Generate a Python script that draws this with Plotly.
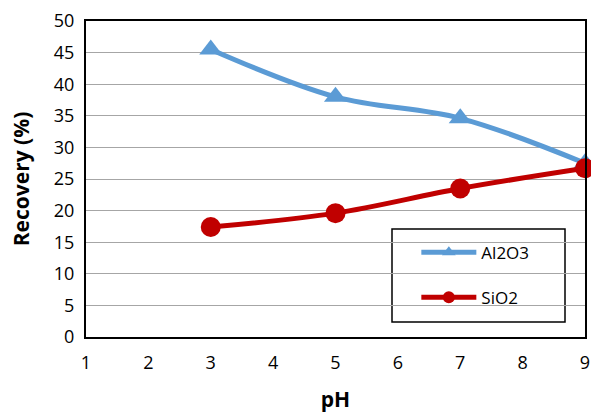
import plotly.graph_objects as go

ph = [3, 5, 7, 9]
al2o3 = [45.5, 38.0, 34.6, 27.5]
sio2 = [17.4, 19.6, 23.5, 26.7]

FONT = "Open Sans"
W, H = 591, 413
L, T = 86, 21
PW, PH = 499, 316

fig = go.Figure()
fig.add_trace(go.Scatter(
    x=ph, y=al2o3, name="Al2O3", mode="lines+markers",
    line=dict(color="#5B9BD5", width=5, shape="spline", smoothing=1),
    marker=dict(symbol="triangle-up", size=20, color="#5B9BD5"),
    legendgroup="a", cliponaxis=False,
))
fig.add_trace(go.Scatter(
    x=ph, y=sio2, name="SiO2", mode="lines+markers",
    line=dict(color="#C00000", width=5, shape="spline", smoothing=1),
    marker=dict(symbol="circle", size=20, color="#C00000"),
    legendgroup="b", cliponaxis=False,
))

fig.update_layout(
    width=W, height=H,
    margin=dict(l=L, r=W - L - PW, t=T, b=H - T - PH),
    paper_bgcolor="white", plot_bgcolor="white",
    font=dict(family=FONT, size=18, color="black"),
    showlegend=True,
    legend=dict(
        x=0.662, y=0.324, xanchor="left", yanchor="top",
        bgcolor="rgba(0,0,0,0)", borderwidth=0,
        tracegroupgap=20, font=dict(size=17), itemsizing="constant",
        itemwidth=55,
    ),
    xaxis=dict(
        range=[1, 9], dtick=1, tick0=1, showgrid=False, automargin=False,
        showline=True, linecolor="black", linewidth=2, mirror=True,
        ticks="outside", ticklen=8, tickcolor="rgba(0,0,0,0)", zeroline=False,
        title=dict(text="<b>pH</b>", font=dict(size=21), standoff=21),
    ),
    yaxis=dict(
        range=[0, 50], dtick=5, showgrid=True, gridcolor="#A6A6A6", gridwidth=1,
        automargin=False,
        showline=True, linecolor="black", linewidth=2, mirror=True,
        ticks="outside", ticklen=6, tickcolor="rgba(0,0,0,0)", zeroline=False,
        title=dict(text="<b>Recovery (%)</b>", font=dict(size=21), standoff=18),
    ),
    shapes=[dict(
        type="rect", xref="paper", yref="paper",
        x0=(392 - L) / PW, x1=(565 - L) / PW,
        y0=(T + PH - 322) / PH, y1=(T + PH - 229) / PH,
        line=dict(color="black", width=1.5), fillcolor="white", layer="below",
    )],
)

fig.write_html(
    "out.html",
    config={"displayModeBar": False},
    post_script="document.body.style.margin='0';document.body.style.overflow='hidden';",
)
